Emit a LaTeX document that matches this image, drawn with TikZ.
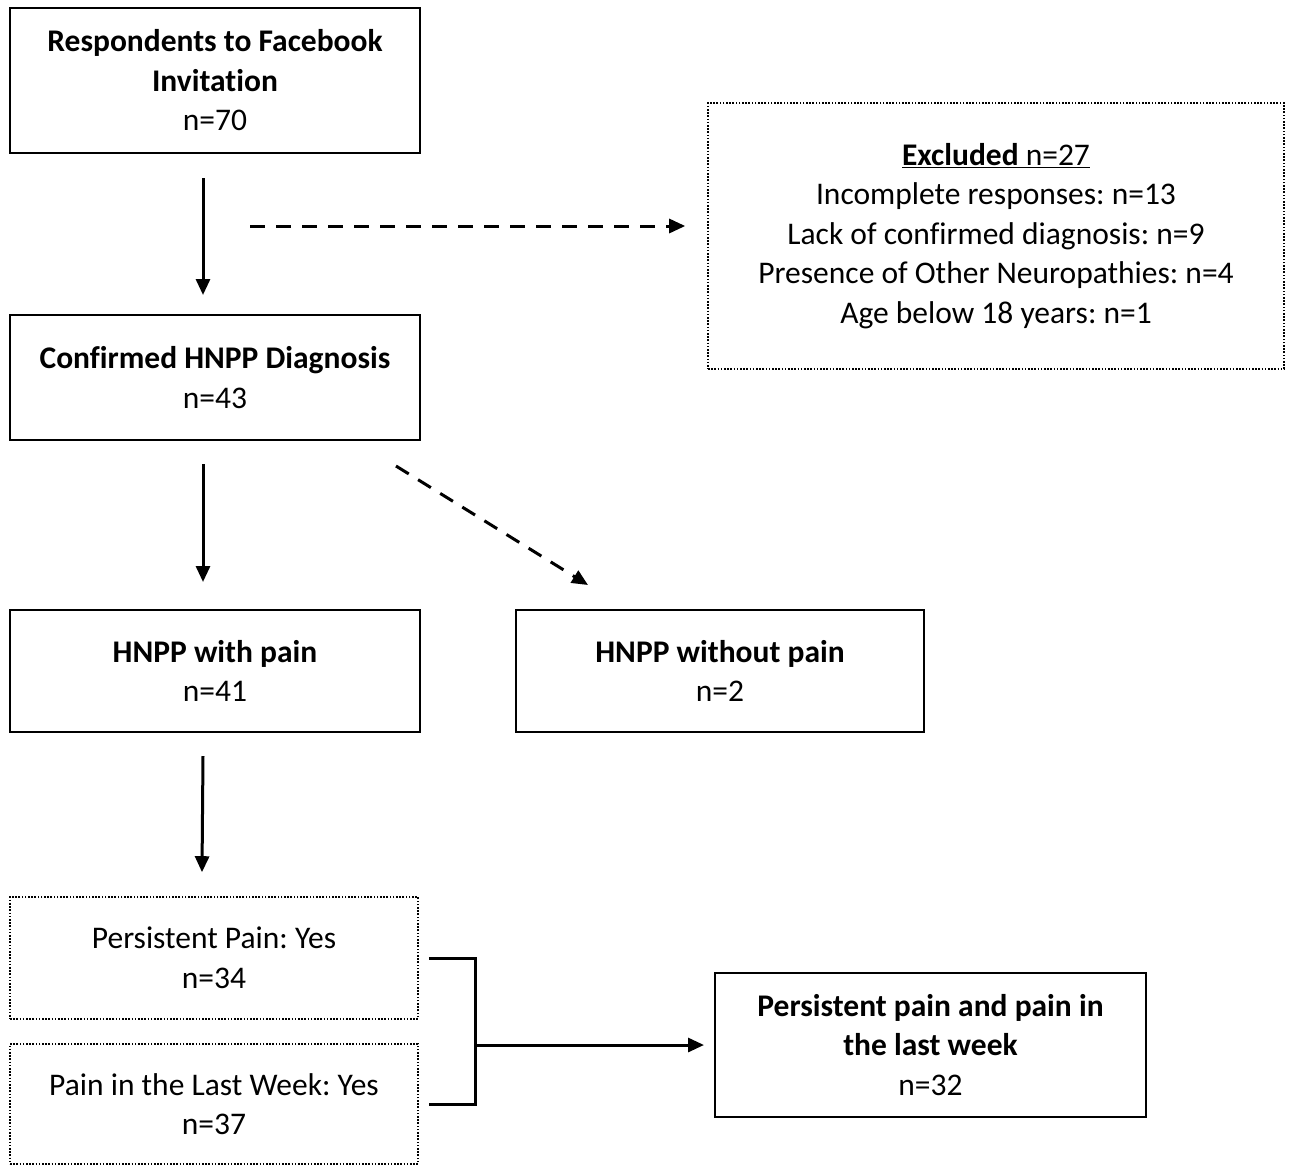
\documentclass[tikz,border=0pt]{standalone}
\usepackage{fontspec}
\setmainfont{Carlito}[Ligatures=NoCommon]
\usetikzlibrary{arrows.meta,calc}
\tikzset{
  solidbox/.style={draw, line width=2pt, rectangle, align=center, inner sep=0pt},
  dotbox/.style={draw, line width=1.6pt, dash pattern=on 1.6pt off 1.6pt, rectangle, align=center, inner sep=0pt},
  arr/.style={line width=3pt, -{Triangle[length=16pt,width=14pt]}},
  darr/.style={line width=3pt, dash pattern=on 15pt off 11pt, -{Triangle[length=16pt,width=14pt]}},
  brk/.style={line width=3pt}
}
\begin{document}
\frenchspacing
\begin{tikzpicture}[x=1pt,y=-1pt, every node/.append style={font=\frenchspacing\fontsize{31.5pt}{39.5pt}\selectfont}]
\useasboundingbox (0,0) rectangle (1290,1165);
\node[solidbox, minimum width=410pt, minimum height=145pt] (b1) at (215,80.5)
  {\textbf{Respondents to Facebook}\\\textbf{Invitation}\\n=70};
\node[dotbox, minimum width=576pt, minimum height=266pt] (b2) at (996,236)
  {\underline{\textbf{Excluded} n=27}\\Incomplete responses: n=13\\Lack of confirmed diagnosis: n=9\\Presence of Other Neuropathies: n=4\\Age below 18 years: n=1};
\node[solidbox, minimum width=410pt, minimum height=125pt] (b3) at (215,377.5)
  {\textbf{Confirmed HNPP Diagnosis}\\n=43};
\node[solidbox, minimum width=410pt, minimum height=122pt] (b4) at (215,671)
  {\textbf{HNPP with pain}\\n=41};
\node[solidbox, minimum width=408pt, minimum height=122pt] (b5) at (720,671)
  {\textbf{HNPP without pain}\\n=2};
\node[dotbox, minimum width=408pt, minimum height=122pt] (b6) at (214,958)
  {Persistent Pain: Yes\\n=34};
\node[dotbox, minimum width=408pt, minimum height=120pt] (b7) at (214,1104)
  {Pain in the Last Week: Yes\\n=37};
\node[solidbox, minimum width=431pt, minimum height=144pt] (b8) at (930.5,1045)
  {\textbf{Persistent pain and pain in}\\\textbf{the last week}\\n=32};

\draw[arr] ([xshift=-12pt,yshift=-24pt]b1.south) -- ([xshift=-12pt,yshift=19pt]b3.north);
\coordinate (d1s) at (250,226);
\draw[darr] (d1s) -- ([xshift=-22pt,yshift=10pt]b2.west);
\draw[arr] ([xshift=-12pt,yshift=-23pt]b3.south) -- ([xshift=-12pt,yshift=27pt]b4.north);
\coordinate (d2s) at (396,466);
\draw[darr] (d2s) -- ([xshift=-132pt,yshift=24pt]b5.north);
\draw[arr] ([xshift=-12pt,yshift=-23pt]b4.south) -- ([xshift=-12pt,yshift=24pt]b6.north);
\coordinate (jt) at ([xshift=57pt]b6.east);
\draw[brk] ([xshift=10pt]b6.east) -- (jt) -- (jt |- b7.east) -- ([xshift=10pt]b7.east);
\draw[arr] (jt |- b8.west) -- ([xshift=-10pt]b8.west);
\end{tikzpicture}
\end{document}
